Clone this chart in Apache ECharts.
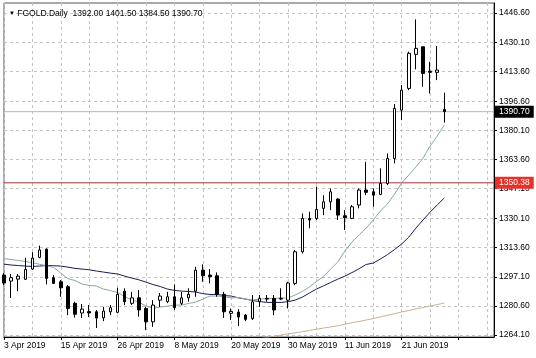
<!DOCTYPE html>
<html>
<head>
<meta charset="utf-8">
<style>
  html, body { margin: 0; padding: 0; background: #fff; }
  #chart { width: 536px; height: 358px; }
</style>
<script src="https://cdn.jsdelivr.net/npm/echarts@6/dist/echarts.min.js"></script>
</head>
<body>
<div id="chart"></div>
<script>
// ---- data ----
const symbolName = 'FGOLD.Daily';
const dates = [
  '3 Apr 2019','4 Apr 2019','5 Apr 2019','8 Apr 2019','9 Apr 2019','10 Apr 2019','11 Apr 2019','12 Apr 2019',
  '15 Apr 2019','16 Apr 2019','17 Apr 2019','18 Apr 2019','22 Apr 2019','23 Apr 2019','24 Apr 2019','25 Apr 2019',
  '26 Apr 2019','29 Apr 2019','30 Apr 2019','1 May 2019','2 May 2019','3 May 2019','6 May 2019','7 May 2019',
  '8 May 2019','9 May 2019','10 May 2019','13 May 2019','14 May 2019','15 May 2019','16 May 2019','17 May 2019',
  '20 May 2019','21 May 2019','22 May 2019','23 May 2019','24 May 2019','27 May 2019','28 May 2019','29 May 2019',
  '30 May 2019','31 May 2019','3 Jun 2019','4 Jun 2019','5 Jun 2019','6 Jun 2019','7 Jun 2019','10 Jun 2019',
  '11 Jun 2019','12 Jun 2019','13 Jun 2019','14 Jun 2019','17 Jun 2019','18 Jun 2019','19 Jun 2019','20 Jun 2019',
  '21 Jun 2019','24 Jun 2019','25 Jun 2019','26 Jun 2019','27 Jun 2019','28 Jun 2019','1 Jul 2019'
];
const emptySlots = ['', '', '', '', '', '', ''];

const opens  = [1298.1,1294.7,1295.8,1295.7,1301.5,1308.1,1312.8,1296.6,1294.3,1291.5,1282.1,1276.6,1277.4,1277.3,1273.9,1277.3,
                1277.0,1289.0,1282.1,1285.2,1279.2,1271.6,1283.9,1283.0,1285.8,1282.1,1285.2,1289.0,1300.9,1298.1,1297.7,1287.2,
                1276.4,1277.1,1275.4,1273.5,1283.0,1284.9,1284.9,1284.5,1283.9,1293.4,1311.3,1330.2,1330.2,1335.9,1339.6,1341.2,
                1331.7,1330.2,1337.8,1346.3,1345.3,1343.8,1350.0,1364.2,1391.6,1403.9,1423.2,1427.5,1413.6,1413.0,1392.00];
const highs  = [1299.2,1298.7,1298.7,1307.9,1311.1,1314.8,1313.2,1298.1,1295.3,1292.4,1283.0,1281.7,1281.1,1278.3,1280.1,1281.1,
                1290.9,1290.6,1288.6,1289.6,1280.1,1283.9,1287.9,1288.6,1292.8,1288.6,1290.6,1302.8,1304.2,1301.5,1299.6,1288.6,
                1279.2,1278.8,1276.0,1286.8,1286.8,1286.8,1286.8,1290.6,1294.3,1312.3,1333.0,1334.0,1348.2,1343.4,1347.2,1341.6,
                1334.9,1337.8,1347.2,1362.3,1347.2,1358.6,1367.0,1395.0,1405.8,1424.7,1443.0,1427.5,1419.0,1427.9,1401.50];
const lows   = [1292.4,1285.1,1289.0,1295.3,1300.9,1307.7,1292.8,1293.0,1285.8,1275.4,1274.0,1273.7,1274.3,1268.1,1272.0,1275.4,
                1276.4,1281.1,1281.1,1274.5,1266.9,1268.8,1280.0,1282.2,1278.3,1281.1,1283.0,1285.8,1294.3,1293.4,1285.8,1273.8,
                1272.6,1269.2,1272.0,1272.6,1280.1,1283.0,1275.4,1283.9,1279.2,1292.4,1310.4,1324.6,1329.3,1332.1,1334.9,1329.3,
                1323.6,1329.8,1335.9,1343.4,1336.8,1343.4,1349.1,1361.4,1385.9,1402.9,1414.7,1404.8,1401.0,1408.6,1384.50];
const closes = [1293.6,1296.6,1297.5,1301.3,1307.7,1312.3,1296.2,1293.4,1290.9,1279.2,1275.9,1278.8,1276.6,1273.7,1277.7,1279.6,
                1287.2,1283.0,1285.2,1278.3,1271.6,1281.1,1286.2,1285.8,1279.6,1285.2,1287.2,1300.9,1297.7,1297.2,1287.2,1277.3,
                1277.5,1274.3,1273.0,1282.9,1284.9,1284.5,1278.3,1284.9,1293.6,1311.3,1330.2,1329.3,1335.3,1339.6,1345.3,1332.1,
                1330.6,1336.8,1346.3,1345.0,1343.4,1350.0,1364.2,1392.6,1402.9,1423.8,1426.6,1412.4,1413.0,1414.3,1390.70];

// moving-average lines
const maFast = [1307.5,1306.9,1306.4,1305.8,1305.1,1304.2,1303.4,1302.4,1299.2,1296.1,1295.0,1293.0,1292.2,1291.9,1290.2,1289.3,
                1288.2,1285.9,1283.9,1282.8,1280.5,1279.4,1280.0,1280.5,1281.1,1281.1,1282.0,1282.8,1284.5,1286.2,1286.2,1285.9,
                1285.1,1285.4,1284.5,1283.9,1284.5,1284.8,1284.8,1285.1,1285.1,1286.8,1288.8,1291.3,1294.4,1297.3,1301.5,1305.5,
                1311.7,1316.8,1320.8,1324.7,1329.3,1334.4,1338.4,1344.0,1350.3,1354.8,1359.3,1364.4,1371.2,1376.9,1383.1];
const maMid  = [1304.3,1303.8,1303.5,1303.2,1303.0,1303.2,1303.5,1303.4,1303.2,1302.6,1301.9,1301.5,1301.1,1300.4,1299.8,1299.2,
                1298.7,1297.5,1296.4,1295.4,1294.1,1292.7,1291.6,1290.2,1289.4,1289.0,1288.8,1288.5,1287.6,1287.1,1287.1,1286.5,
                1286.2,1285.2,1284.5,1283.7,1283.1,1282.6,1282.6,1282.6,1283.0,1283.9,1285.6,1287.9,1290.2,1292.0,1293.9,1295.8,
                1297.5,1299.5,1301.7,1304.1,1304.9,1307.2,1309.7,1312.6,1315.7,1319.6,1324.7,1329.3,1333.8,1337.8,1341.8];
const maSlow = [null,null,null,null,null,null,null,null,null,null,null,null,null,null,null,null,
                null,null,null,null,null,null,null,null,null,null,null,null,null,null,null,null,
                null,null,null,1261.2,1262.0,1262.7,1263.4,1264.1,1264.8,1265.4,1266.0,1266.7,1267.4,1268.1,1268.7,1269.4,
                1270.2,1271.1,1271.8,1272.6,1273.5,1274.4,1275.3,1276.2,1277.2,1278.0,1278.9,1279.7,1280.6,1281.4,1282.2];

const yTickLabels = ['1264.10','1280.60','1297.10','1313.60','1330.10','1347.10',
                     '1363.60','1380.10','1396.60','1413.60','1430.10','1446.60'];
const levelLine = 1350.38;
const yMin = 1263.0;
const yMax = 1452.3;

// ---- chart ----
const FONT = 'Liberation Sans';
const categories = dates.concat(emptySlots);
const candleData = opens.map((o, i) => [o, closes[i], lows[i], highs[i]]);
const yTickValues = yTickLabels.map(Number);
const last = opens.length - 1;
const lastClose = closes[last];
const header = '{t|▼} ' + symbolName + '  ' +
  [opens[last], highs[last], lows[last], closes[last]].map(v => v.toFixed(2)).join(' ');

// horizontal price level drawn as a two-point line across the whole axis
function levelSeries(value, lineColor, boxColor) {
  return {
    type: 'line', silent: true, z: 2, showSymbol: false, symbol: 'none',
    data: [[0, value], [categories.length - 1, value]],
    lineStyle: { color: lineColor, width: 1, type: 'solid' },
    itemStyle: { color: lineColor },
    emphasis: { disabled: true },
    endLabel: {
      show: true, distance: 1, formatter: value.toFixed(2),
      backgroundColor: boxColor, color: '#fff', padding: [2, 4, 1, 4], fontSize: 8.5, fontFamily: FONT
    }
  };
}

const chart = echarts.init(document.getElementById('chart'), null, { renderer: 'canvas' });
chart.setOption({
  backgroundColor: '#ffffff',
  animation: false,
  textStyle: { fontFamily: FONT },
  title: {
    text: header, left: 4, top: 4,
    textStyle: {
      fontSize: 8.5, fontWeight: 'normal', fontFamily: FONT, color: '#000',
      rich: { t: { fontSize: 6, color: '#000' } }
    }
  },
  grid: { left: 4, top: 3, width: 490, height: 334, show: true, borderColor: '#555', borderWidth: 1 },
  xAxis: {
    type: 'category', data: categories, boundaryGap: false,
    axisLine: { show: true, lineStyle: { color: '#000' } },
    axisTick: { show: true, length: 3, interval: (i) => i % 8 === 0, lineStyle: { color: '#000' } },
    axisLabel: {
      interval: (i) => i % 8 === 0, align: 'left', margin: 4,
      fontSize: 8.5, color: '#000', fontFamily: FONT, hideOverlap: false
    },
    splitLine: { show: true, interval: (i) => i % 4 === 0, lineStyle: { color: '#c4c4c4', type: [3, 3], width: 1 } }
  },
  yAxis: {
    type: 'value', position: 'right', min: yMin, max: yMax, scale: true,
    axisLine: { show: true, lineStyle: { color: '#000' } },
    axisTick: { show: true, length: 3, customValues: yTickValues, lineStyle: { color: '#000' } },
    axisLabel: {
      customValues: yTickValues, formatter: (v) => v.toFixed(2), margin: 5,
      fontSize: 8.5, color: '#000', fontFamily: FONT
    },
    splitLine: { show: true, lineStyle: { color: '#c4c4c4', type: [3, 3], width: 1 } }
  },
  series: [
    levelSeries(lastClose, '#b4b4b4', '#000000'),
    levelSeries(levelLine, '#a83232', '#e8302a'),
    {
      type: 'line', data: maSlow, showSymbol: false, silent: true, z: 3,
      lineStyle: { color: '#c9b28e', width: 1 }
    },
    {
      type: 'line', data: maMid, showSymbol: false, silent: true, z: 3,
      lineStyle: { color: '#1c1c55', width: 1 }
    },
    {
      type: 'line', data: maFast, showSymbol: false, silent: true, z: 3,
      lineStyle: { color: '#86aaa0', width: 1 }
    },
    {
      type: 'candlestick', data: candleData, barWidth: 3, z: 4,
      itemStyle: { color: '#ffffff', color0: '#000000', borderColor: '#000000', borderColor0: '#000000', borderWidth: 1 }
    }
  ]
});
</script>
</body>
</html>
